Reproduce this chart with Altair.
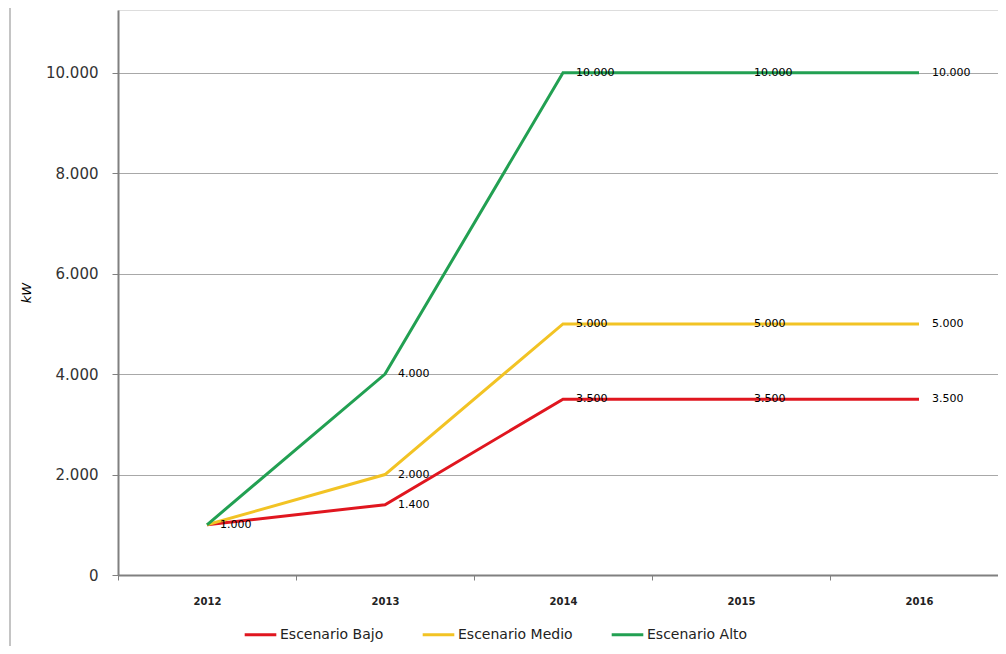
import altair as alt
import pandas as pd

years = ["2012", "2013", "2014", "2015", "2016"]
bajo = [1000, 1400, 3500, 3500, 3500]
medio = [1000, 2000, 5000, 5000, 5000]
alto = [1000, 4000, 10000, 10000, 10000]
series = ["Escenario Bajo", "Escenario Medio", "Escenario Alto"]
colors = ["#E0161F", "#F2C324", "#22A052"]
y_ticks = [0, 2000, 4000, 6000, 8000, 10000]

rows = []
for si, (name, vals) in enumerate(zip(series, [bajo, medio, alto])):
    for yi, (yr, v) in enumerate(zip(years, vals)):
        rows.append({"year": yr, "value": v, "serie": name,
                     "label": f"{v:,}".replace(",", "."),
                     # the shared starting point is labelled only once
                     "show": not (yi == 0 and si > 0)})
df = pd.DataFrame(rows)

FONT = "DejaVu Sans"

x_enc = alt.X(
    "year:N", sort=years, bandPosition=0.5,
    scale=alt.Scale(type="band", paddingInner=0, paddingOuter=0),
    axis=alt.Axis(title=None, labelAngle=0, tickBand="extent", grid=False,
                  labelFont=FONT, labelFontSize=10, labelFontWeight="bold",
                  labelColor="#222222", labelPadding=16, tickSize=5,
                  tickColor="#808080", domainColor="#808080", domainWidth=2,
                  tickWidth=1),
)
y_enc = alt.Y(
    "value:Q",
    scale=alt.Scale(domain=[0, 11250], nice=False),
    axis=alt.Axis(values=y_ticks, grid=True, gridColor="#A8A8A8", gridWidth=1,
                  labelExpr="replace(format(datum.value, ','), ',', '.')",
                  labelFont=FONT, labelFontSize=15, labelColor="#333333",
                  labelPadding=14, tickSize=6, tickColor="#808080",
                  domainColor="#808080", domainWidth=2,
                  title="kW", titleFont=FONT, titleFontSize=13,
                  titleFontStyle="italic", titleFontWeight="normal",
                  titleColor="#000000", titlePadding=12),
)
color_enc = alt.Color(
    "serie:N", sort=series,
    scale=alt.Scale(domain=series, range=colors),
    legend=alt.Legend(title=None, orient="none", legendX=125, legendY=607,
                      direction="horizontal", symbolType="stroke",
                      symbolSize=1000, symbolStrokeWidth=3,
                      labelFont=FONT, labelFontSize=14, labelColor="#222222",
                      columnPadding=32, labelOffset=2),
)

base = alt.Chart(df)
lines = base.mark_line(strokeWidth=3).encode(x=x_enc, y=y_enc, color=color_enc,
                                             order=alt.Order("year:N"))
labels = base.transform_filter("datum.show").mark_text(
    align="left", baseline="middle", dx=13, fontSize=11,
    font=FONT, color="#000000").encode(
    x=alt.X("year:N", sort=years, bandPosition=0.5),
    y="value:Q", text="label:N")

frame = alt.Chart(pd.DataFrame({"a": [0]})).mark_rule(
    color="#C4C4C4", strokeWidth=2).encode(
    x=alt.value(-108), y=alt.value(-4), y2=alt.value(650))

chart = alt.layer(frame, lines, labels).properties(
    width=890, height=565,
    padding={"left": 110, "top": 2, "right": -10, "bottom": 71},
    autosize=alt.AutoSizeParams(type="none"),
).configure_view(stroke=None).configure(background="#FFFFFF")

chart.save("out.html", embed_options={"renderer": "svg", "actions": False})
